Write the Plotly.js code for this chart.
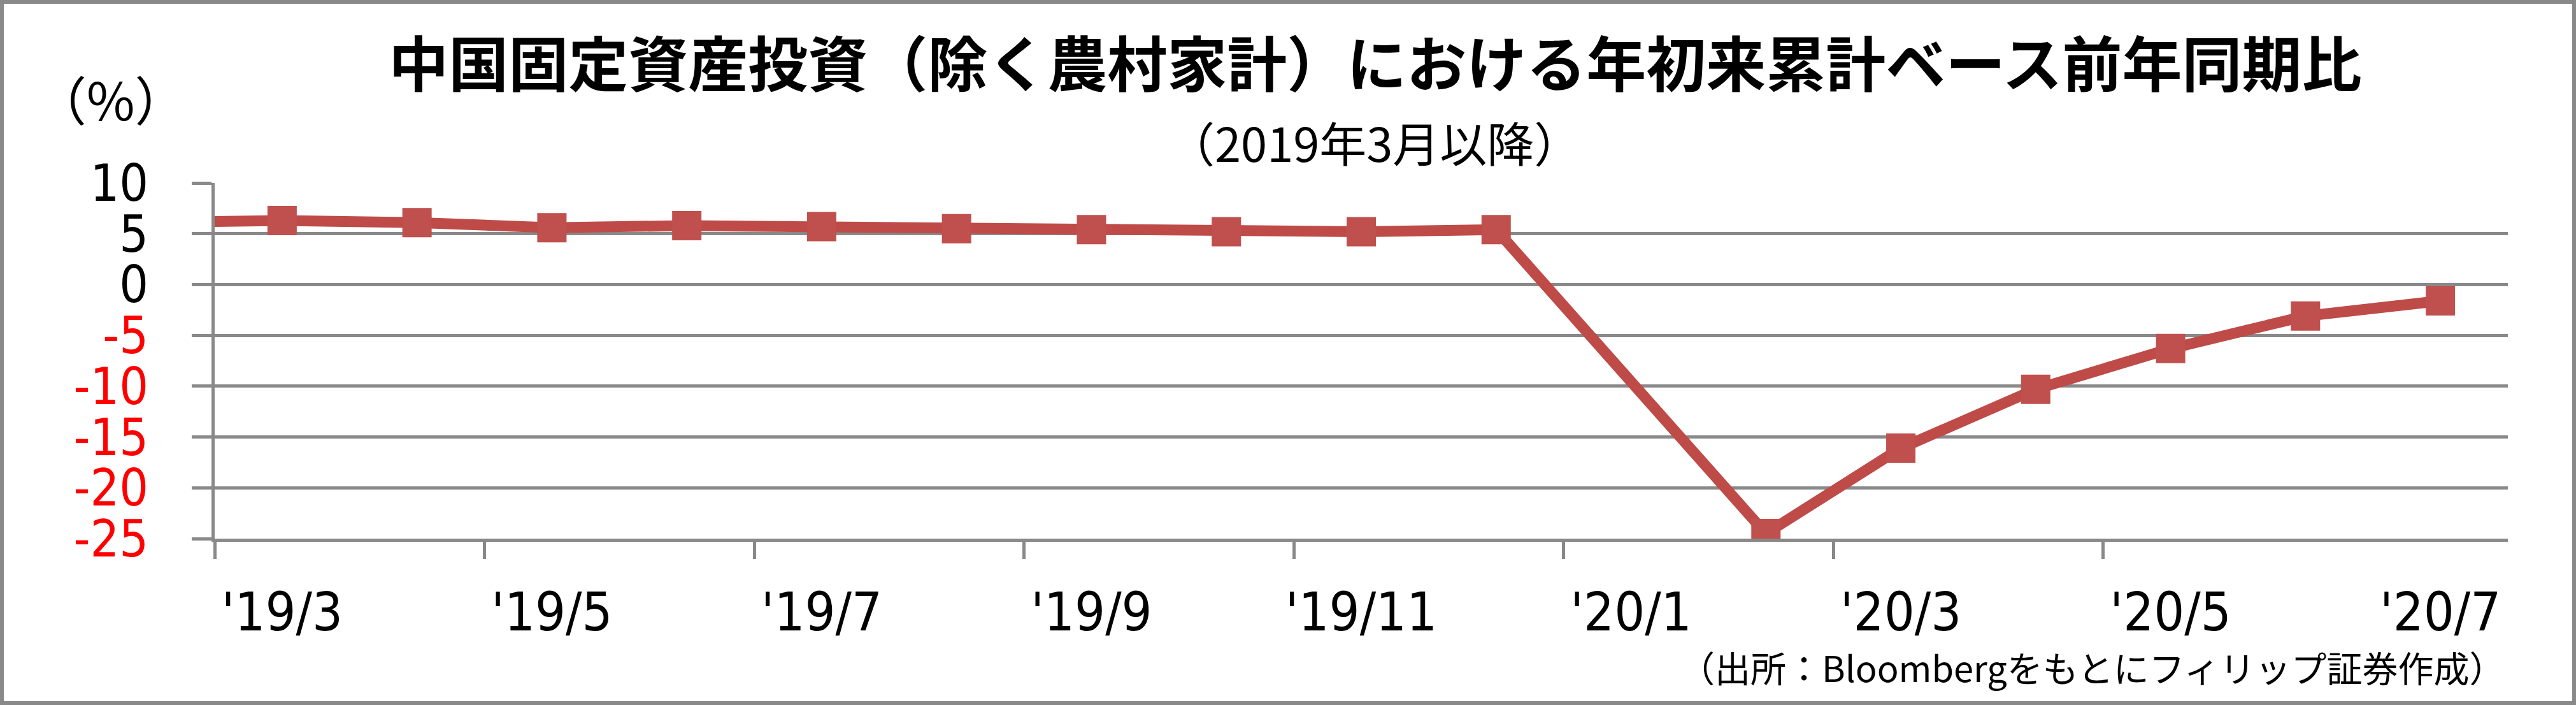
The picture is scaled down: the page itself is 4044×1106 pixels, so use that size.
<!DOCTYPE html>
<html>
<head>
<meta charset="utf-8">
<script src="https://cdn.plot.ly/plotly-3.0.1.min.js"></script>
<style>
  html, body { margin: 0; padding: 0; background: #ffffff; }
  #frame { position: absolute; left: 0; top: 0; width: 4044px; height: 1106px; box-sizing: border-box; border: 6px solid #898989; background: #ffffff; }
  #chart { position: absolute; left: 0; top: 0; width: 4032px; height: 1094px; }
</style>
</head>
<body>
<div id="frame"><div id="chart"></div></div>
<script>
// Months (the first one, '19/2, lies just outside the visible range: only the line entering the plot shows)
const months = ["'19/2", "'19/3", "'19/4", "'19/5", "'19/6", "'19/7", "'19/8", "'19/9", "'19/10", "'19/11", "'19/12",
                "'20/1", "'20/2", "'20/3", "'20/4", "'20/5", "'20/6", "'20/7"];
// Year-to-date fixed asset investment, YoY %
const faiYoY = [6.1, 6.3, 6.1, 5.6, 5.8, 5.7, 5.5, 5.4, 5.2, 5.2, 5.4,
                null, -24.5, -16.1, -10.3, -6.3, -3.1, -1.6];
// Axis tick labels
const xLabels = ["'19/3", "'19/5", "'19/7", "'19/9", "'19/11", "'20/1", "'20/3", "'20/5", "'20/7"];
const yTicks = [10, 5, 0, -5, -10, -15, -20, -25];

const titleText = "中国固定資産投資（除く農村家計）における年初来累計ベース前年同期比";
const subtitleText = "（2019年3月以降）";
const unitText = "（%）";
const sourceText = "（出所：Bloombergをもとにフィリップ証券作成）";

// positions: index relative to the first visible month ('19/3)
const firstVisible = months.indexOf("'19/3");
const xPos = months.map((m, i) => i - firstVisible);
const labelPos = xLabels.map(l => months.indexOf(l) - firstVisible);
const boundaryPos = labelPos.slice(0, -1).map(p => p - 0.5);

const yText = yTicks.map(v => v < 0 ? '<span style="color:#FF0000">' + v + '</span>' : String(v));

const grey = '#898989';
const cjk = '"Noto Sans CJK JP", "Noto Sans", sans-serif';
const tickFont = '"DejaVu Sans Condensed", "DejaVu Sans", sans-serif';

const trace = {
  x: xPos,
  y: faiYoY,
  type: 'scatter',
  mode: 'lines+markers',
  connectgaps: true,
  line: { color: '#BE4B48', width: 17 },
  marker: { symbol: 'square', size: 46, color: '#C0504D', line: { width: 0 } },
  hoverinfo: 'skip'
};

const layout = {
  width: 4032,
  height: 1094,
  margin: { l: 331, r: 101, t: 281, b: 255, pad: 0 },
  paper_bgcolor: '#ffffff',
  plot_bgcolor: '#ffffff',
  showlegend: false,
  title: {
    text: titleText,
    font: { family: cjk, size: 94, color: '#000000', weight: 'bold' },
    xref: 'paper', yref: 'container',
    x: 0.5061, y: 0.9113, xanchor: 'center', yanchor: 'middle'
  },
  xaxis: {
    type: 'linear',
    range: [-0.5, 16.5],
    tickmode: 'array',
    tickvals: labelPos,
    ticktext: xLabels,
    ticks: '',
    ticklabelstandoff: 38,
    tickfont: { family: tickFont, size: 84, color: '#000000' },
    showgrid: false,
    zeroline: false,
    showline: true,
    linecolor: grey,
    linewidth: 5,
    minor: {
      tickmode: 'array',
      tickvals: boundaryPos,
      ticks: 'outside',
      ticklen: 27,
      tickwidth: 5,
      tickcolor: grey,
      showgrid: false
    },
    fixedrange: true
  },
  yaxis: {
    range: [-25, 10],
    tickmode: 'array',
    tickvals: yTicks,
    ticktext: yText,
    ticks: 'outside',
    ticklen: 31,
    tickwidth: 5,
    tickcolor: grey,
    ticklabelstandoff: 52,
    tickfont: { family: tickFont, size: 80, color: '#000000' },
    showgrid: true,
    gridcolor: grey,
    gridwidth: 5,
    zeroline: false,
    showline: true,
    linecolor: grey,
    linewidth: 5,
    fixedrange: true
  },
  annotations: [
    {
      text: subtitleText, xref: 'paper', yref: 'paper', x: 0.5056, y: 1.1165,
      xanchor: 'center', yanchor: 'middle', showarrow: false,
      font: { family: cjk, size: 74, color: '#000000' }
    },
    {
      text: unitText, xref: 'paper', yref: 'paper', x: -0.0453, y: 1.2384,
      xanchor: 'center', yanchor: 'middle', showarrow: false,
      font: { family: cjk, size: 82, color: '#000000' }
    },
    {
      text: sourceText, xref: 'paper', yref: 'paper', x: 0.9995, y: -0.3602,
      xanchor: 'right', yanchor: 'middle', showarrow: false,
      font: { family: cjk, size: 56, color: '#000000' }
    }
  ]
};

Plotly.newPlot('chart', [trace], layout, { staticPlot: true, displayModeBar: false });
</script>
</body>
</html>
